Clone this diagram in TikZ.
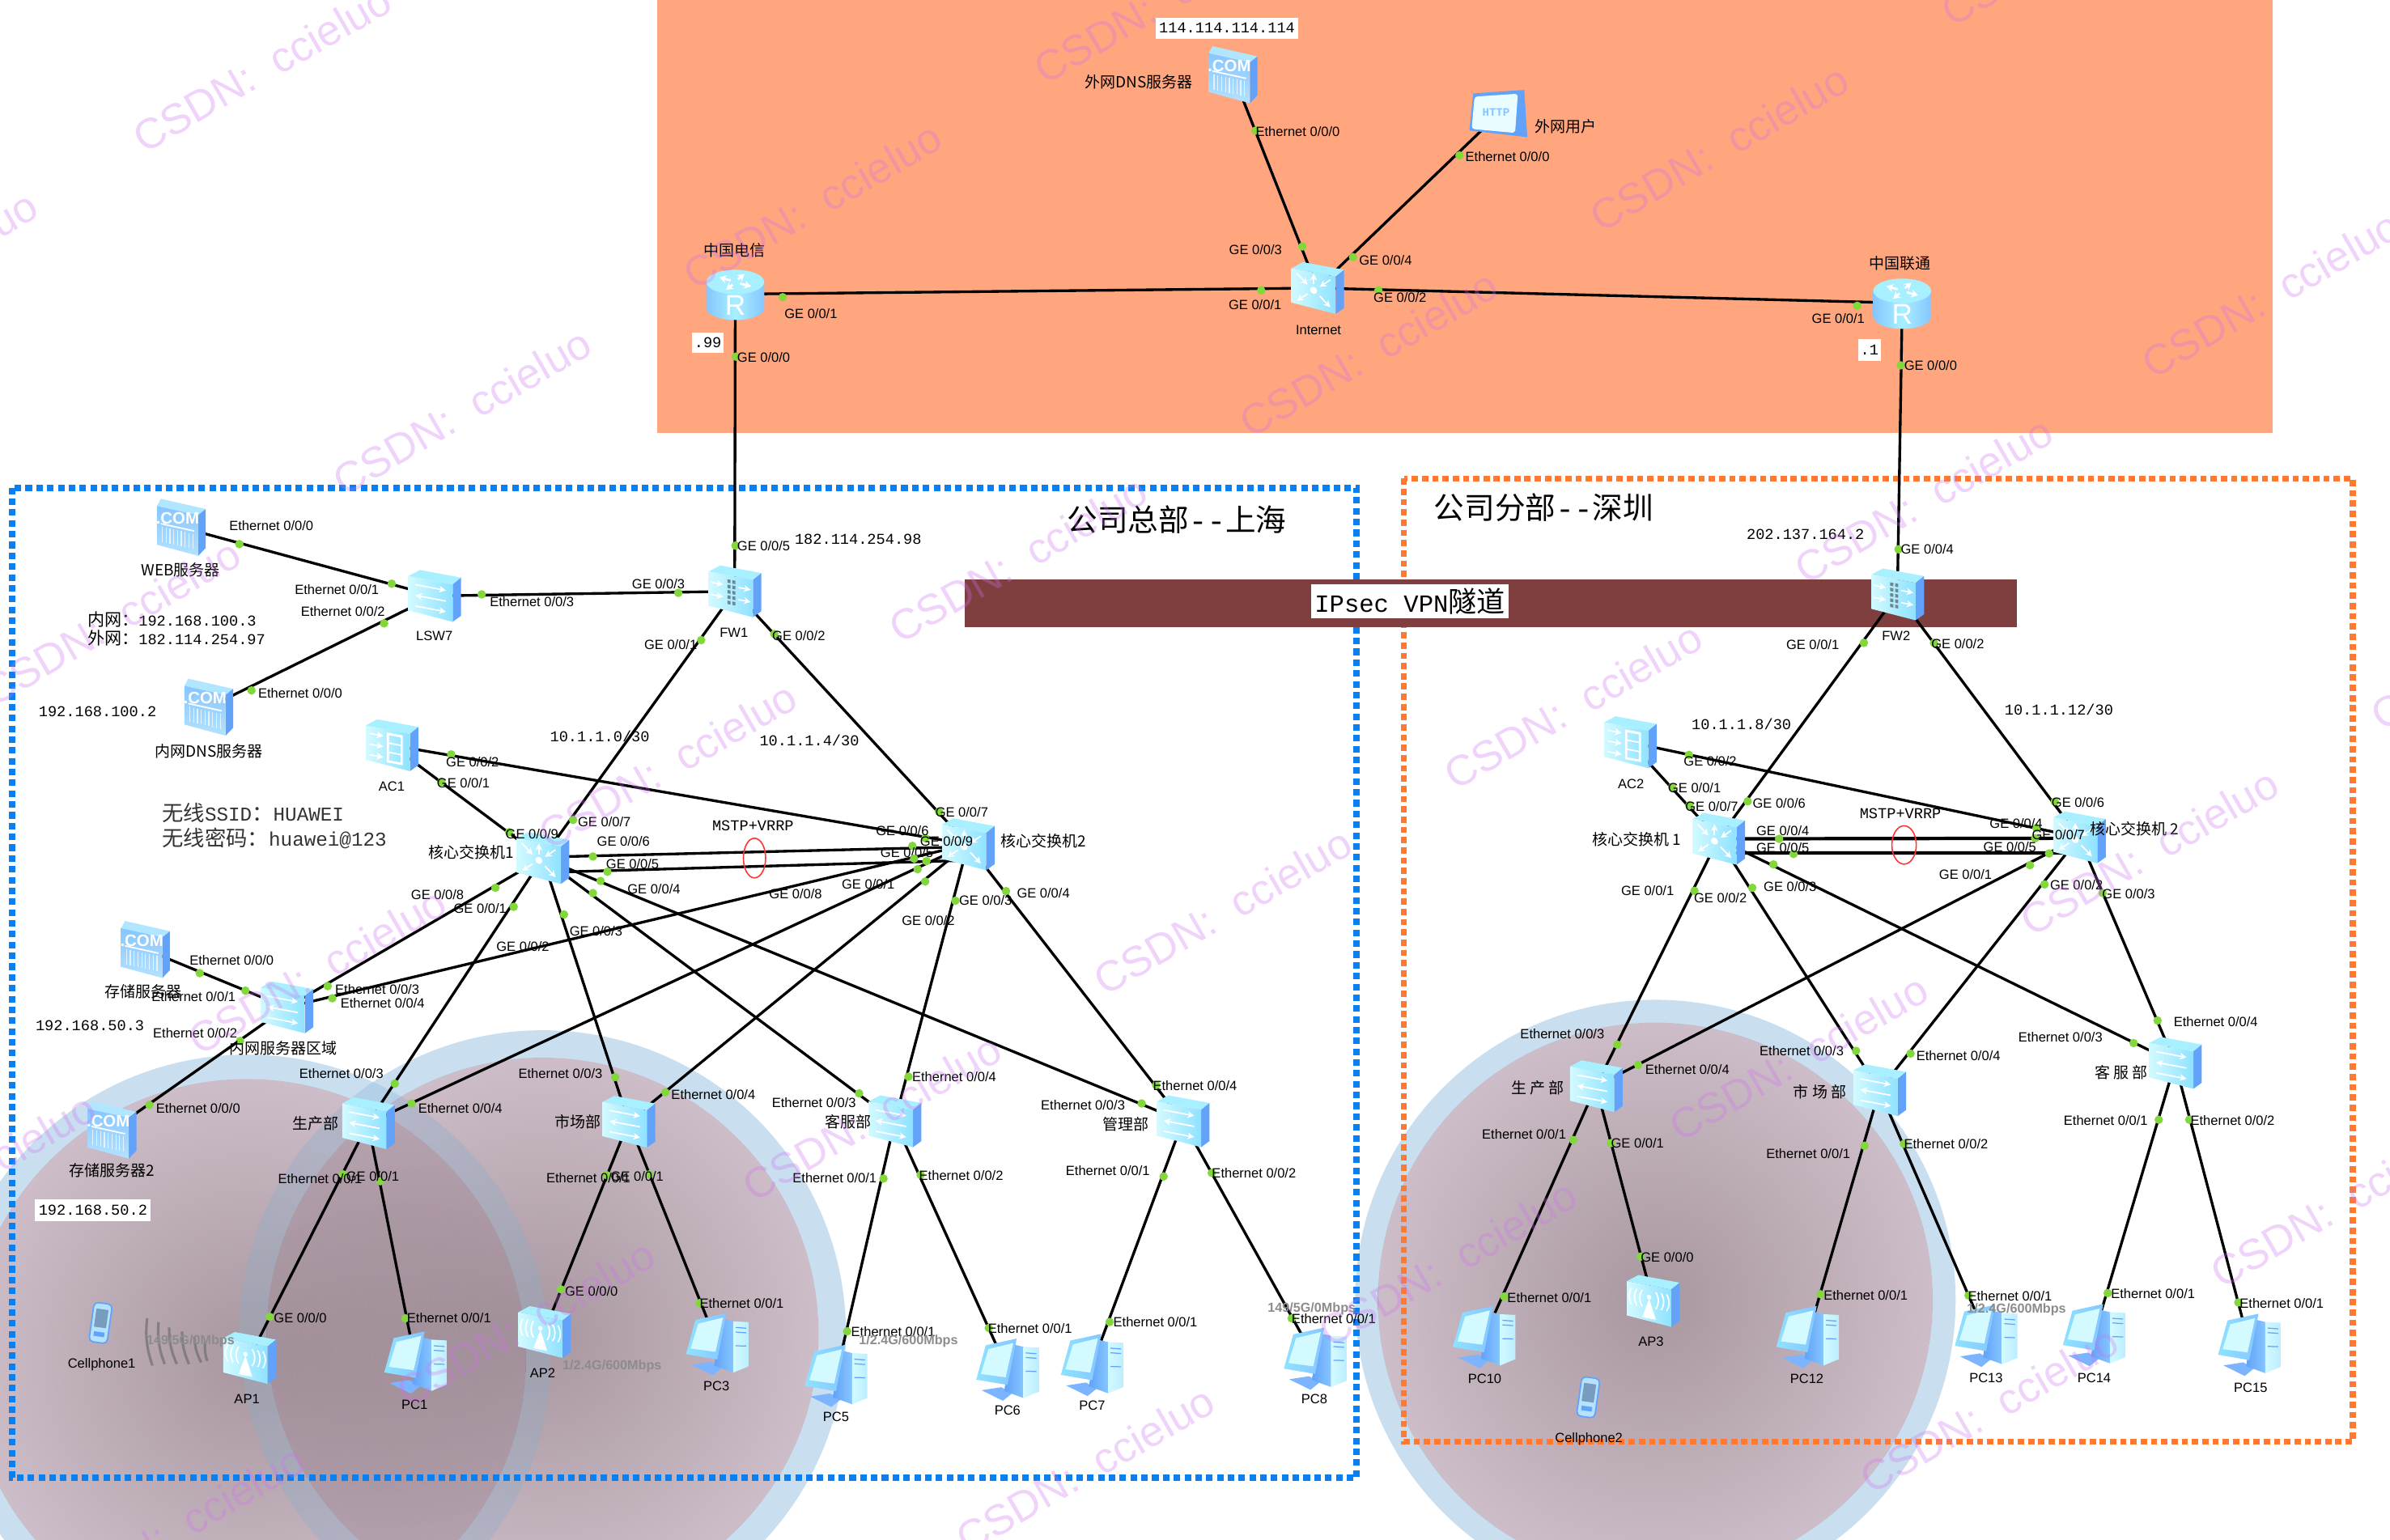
\documentclass[tikz,border=0pt]{standalone}
\usepackage{fontspec}
\setmainfont{Liberation Sans}
\newfontfamily\cj{Noto Sans CJK SC}
\newfontfamily\mn{Liberation Mono}
\usetikzlibrary{arrows.meta,calc}
\definecolor{orbg}{HTML}{FFA67E}
\definecolor{bluedot}{HTML}{0A80F0}
\definecolor{oradot}{HTML}{FF7A30}
\definecolor{vpn}{HTML}{7F3F3F}
\definecolor{portg}{HTML}{82D83A}
\definecolor{band}{HTML}{C9DFF0}
\definecolor{covA}{HTML}{A8979F}
\definecolor{covB}{HTML}{CDBDC8}
\definecolor{covC}{HTML}{DDCDD9}
\definecolor{wm}{HTML}{D070F0}
\definecolor{fL}{HTML}{D2FAFF}
\definecolor{fR}{HTML}{8FE2FF}
\definecolor{tp}{HTML}{A8F0FF}
\definecolor{sd}{HTML}{62A2F8}
\definecolor{sL}{HTML}{86C6FF}
\definecolor{sR}{HTML}{B4E2FF}
\definecolor{pcd}{HTML}{7DB4FF}
\definecolor{gr}{HTML}{8C8C8C}
\pgfdeclareradialshading{covshade}{\pgfpoint{0bp}{0bp}}{color(0bp)=(covA); color(25bp)=(covB); color(50bp)=(covC)}
\newcounter{pn}
\newcommand{\dt}[2]{\stepcounter{pn}\node[portdot] (d\thepn) at (#1,#2) {};}
\newcommand{\lb}[3]{\stepcounter{pn}\node[portlab] (t\thepn) at (#1,#2) {#3};}
\newcommand{\pl}[5]{\dt{#1}{#2}\lb{#3}{#4}{#5}}
\newcommand{\clb}[3]{\stepcounter{pn}\node[cjlab] (t\thepn) at (#1,#2) {#3};}
\newcommand{\mlb}[3]{\stepcounter{pn}\node[mnlab] (t\thepn) at (#1,#2) {#3};}
\newcommand{\glb}[3]{\stepcounter{pn}\node[graylab] (t\thepn) at (#1,#2) {#3};}
\newcommand{\boxbody}{%
  \fill[tp] (-17,-13) -- (-9.5,-17) -- (17.5,-12) -- (12,-7.5) -- cycle;
  \fill[sd] (12,-7.5) -- (17.5,-12) -- (17.5,13) -- (12,17) -- cycle;
  \shade[left color=fL,right color=fR] (-17,-13) -- (12,-7.5) -- (12,17) -- (-17,9.5) -- cycle;}
\tikzset{
  portdot/.style={circle,fill=portg,inner sep=0,minimum size=0.105cm},
  portlab/.style={inner sep=0,font=\fontsize{4.7}{5}\selectfont,text=black},
  cjlab/.style={inner sep=0,font=\cj\fontsize{5.4}{6}\selectfont,text=black},
  mnlab/.style={inner sep=0,font=\mn\fontsize{5.3}{6}\selectfont,text=black},
  graylab/.style={inner sep=0,font=\bfseries\fontsize{4.6}{5}\selectfont,text=gr},
  whitebox/.style={fill=white,inner sep=0},
  dev/.style={inner sep=0,minimum size=0},
  link/.style={draw=black,line width=0.95pt},
  wmark/.style={font=\fontsize{15}{16}\selectfont,text=wm,opacity=0.3,rotate=30,inner sep=0},
  wave/.style={draw=black!55,line width=0.9pt,opacity=.75},
  wh/.style={draw=white,line width=0.5pt},
  ar/.style={wh,-{Stealth[length=2.4pt,width=2.4pt]}},
  sw/.pic={\boxbody
    \begin{scope}[shift={(-2.5,1.5)},yslant=-0.19]
      \draw[ar] (-10,-7) -- (10,-7); \draw[ar] (10,0) -- (-10,0); \draw[ar] (-10,7) -- (10,7);
    \end{scope}},
  lthree/.pic={\boxbody
    \begin{scope}[shift={(-2.5,1.5)},yslant=-0.19]
      \fill[white] (0,0) circle (2.3);
      \draw[ar] (-11,-9) -- (-4,-3); \draw[ar] (11,-9) -- (4,-3);
      \draw[ar] (-4,3) -- (-11,9); \draw[ar] (4,3) -- (11,9); \draw[ar] (0,-4) -- (0,-11);
    \end{scope}},
  fwall/.pic={\boxbody
    \begin{scope}[shift={(-2.5,1.5)},yslant=-0.19]
      \foreach \gx in {-2.2,1}{\foreach \gy in {-9,-5.5,-2,1.5,5}{\fill[black!45!cyan!50!gray] (\gx,\gy) rectangle +(2,2.2);}}
      \draw[ar] (-13,-5) -- (-5,-5); \draw[ar] (-13,3) -- (-5,3); \draw[ar] (5,-5) -- (13,-5); \draw[ar] (5,3) -- (13,3);
    \end{scope}},
  acbox/.pic={\boxbody
    \begin{scope}[shift={(-2.5,1.5)},yslant=-0.19]
      \draw[wh,line width=.8pt] (0,-9) rectangle (9,9); \draw[wh] (0,-3) -- (9,-3); \draw[wh] (0,3) -- (9,3);
      \draw[ar] (-12,-7) -- (-3,-7); \draw[ar] (-12,0) -- (-3,0); \draw[ar] (-12,7) -- (-3,7);
    \end{scope}},
  apbox/.pic={\boxbody
    \begin{scope}[shift={(-2.5,1.5)},yslant=-0.19]
      \fill[white] (0,-3) -- (-4.5,10) -- (4.5,10) -- cycle;
      \fill[white] (0,-4) circle (1.5);
      \foreach \r in {4.5,8,11.5}{\draw[wh] (-\r,-8) to[bend right=30] (-\r,3); \draw[wh] (\r,-8) to[bend left=30] (\r,3);}
    \end{scope}},
  server/.pic={
    \fill[sR!70!tp] (-16,-14) -- (-13.5,-18.7) -- (16,-12) -- (11,-8) -- cycle;
    \fill[sd] (11,-8) -- (16,-12) -- (16,13.5) -- (11,18.7) -- cycle;
    \shade[top color=sL,bottom color=sR] (-16,-14) -- (11,-8) -- (11,18.7) -- (-16,11.4) -- cycle;
    \begin{scope}[shift={(-2.5,2)},yslant=-0.22]
      \node[dev,text=white,font=\bfseries\fontsize{5.8}{6}\selectfont] (c) at (0,-8) {.COM};
      \draw[wh] (-11,-2) -- (11,-2);
      \foreach \hx in {-10,-7.5,...,10}{\draw[white,opacity=.7,line width=.35pt] (\hx,0) -- (\hx,10);}
    \end{scope}},
  router/.pic={
    \shade[left color=sL,right color=sL,middle color=tp] (-19,-8) -- (-19,9) arc[start angle=180,end angle=0,x radius=19,y radius=8] -- (19,-8) -- cycle;
    \fill[tp] (0,-8) ellipse [x radius=19,y radius=8];
    \foreach \ra in {30,120,210,300}{\draw[white,line width=.8pt,-{Stealth[length=2.4pt,width=2.8pt]}] ($(0,-8)+(\ra:3.5 and 2)$) -- ($(0,-8)+(\ra:12 and 6)$);}
    \node[dev,text=white,font=\fontsize{10}{10}\selectfont] (rr) at (0,7.5) {R};},
  pcset/.pic={
    \fill[pcd] (-17,13.5) -- (-4,11.5) -- (3,15.5) -- (-3,20.4) -- cycle;
    \shade[left color=sd,right color=sL] (2,-17) -- (10.5,-15) -- (10.5,18.6) -- (-2,14) -- cycle;
    \shade[left color=fL,right color=fR!60!white] (10.5,-15) -- (20.5,-14.5) -- (20.5,14.5) -- (10.5,18.6) -- cycle;
    \draw[sd,line width=.35pt] (12,-11) -- (19,-10.5) (12,-8) -- (19,-7.5) (12,1) -- (19,1.2);
    \shade[left color=fR,right color=sL] (-14.3,-16) -- (6,-20.4) -- (0,10) -- (-20.5,6.5) -- cycle;
    \fill[fL] (-12.5,-13.5) -- (3.8,-17.5) -- (-1.2,5) -- (-17.5,2.8) -- cycle;},
  tablet/.pic={
    \fill[sd] (-16.5,-13.7) -- (17,-16) -- (19,15) -- (-19,10.6) -- cycle;
    \fill[fL!50!white,rounded corners=1pt] (-15.6,-11.6) -- (12.8,-13.5) -- (11,12.2) -- (-17.5,9.6) -- cycle;
    \node[dev,text=sL,font=\mn\bfseries\fontsize{4}{4}\selectfont] (http) at (-1.5,-1.5) {HTTP};},
  phone/.pic={
    \begin{scope}[rotate=-8]
      \fill[sR,draw=sd,line width=.5pt,rounded corners=1.5pt] (-6,-13) rectangle (6,13);
      \fill[black!15!sL!70!gray] (-4,-9) rectangle (4,3);
      \fill[sd] (-3.5,6) rectangle (3.5,9);
    \end{scope}},
}
\begin{document}
\begin{tikzpicture}[x=0.018833cm,y=-0.018833cm]
\clip (0,0) rectangle (1568,1010.46);
\fill[white] (0,0) rectangle (1568,1010.46);
% top band
\fill[orbg] (431,0) rectangle (1491,284);
% coverage discs
\begin{scope}[blend mode=multiply]
  \foreach \cx/\cy/\ro/\ri in {162/891/199/183,356/875/199/181,1086/853/197/182}{
    \fill[band,even odd rule] (\cx,\cy) circle (\ro) (\cx,\cy) circle (\ri);
    \shade[shading=covshade] (\cx,\cy) circle (\ri);
  }
\end{scope}
\begin{scope}
  \clip (162,891) circle (199);
  \fill[white,opacity=.22] (356,875) circle (199);
\end{scope}
% regions
\draw[draw=bluedot,line width=2.2pt,dash pattern=on 2.3pt off 1.5pt] (8,320) rectangle (890,969.5);
\draw[draw=oradot,line width=2.1pt,dash pattern=on 2.2pt off 1.4pt] (921,314) rectangle (1543.5,946);
\fill[vpn] (633,380) rectangle (1323,411.5);
\node[whitebox,minimum width=130*0.018833cm,minimum height=22*0.018833cm,font=\mn\fontsize{8.7}{9}\selectfont] (vpnt) at (925,394.5) {IPsec VPN{\cj\fontsize{10}{10}\selectfont 隧道}};
% devices (anchors)
\node[dev] (CT) at (482.4,193) {};
\node[dev] (CU) at (1248,198.8) {};
\node[dev] (INT) at (864.3,189) {};
\node[dev] (DNSX) at (809,49) {};
\node[dev] (USER) at (983,75) {};
\node[dev] (FWA) at (482,388) {};
\node[dev] (FWB) at (1244.8,390) {};
\node[dev] (LSW) at (285,391) {};
\node[dev] (WEB) at (119,346) {};
\node[dev] (DNSI) at (137,464) {};
\node[dev] (ACA) at (257,489) {};
\node[dev] (ACB) at (1069.4,487) {};
\node[dev] (CSA) at (356,563) {};
\node[dev] (CSB) at (635,554) {};
\node[dev] (CSC) at (1127.3,550.4) {};
\node[dev] (CSD) at (1364,549.4) {};
\node[dev] (STO) at (188,661) {};
\node[dev] (SRVA) at (95.5,623) {};
\node[dev] (SRVB) at (73.5,741.5) {};
\node[dev] (DA) at (241.5,737) {};
\node[dev] (DB) at (412.4,736) {};
\node[dev] (DC) at (587,735.7) {};
\node[dev] (DD) at (776,735.7) {};
\node[dev] (EA) at (1047.1,712.7) {};
\node[dev] (EB) at (1233,715.3) {};
\node[dev] (EC) at (1427,697.4) {};
\node[dev] (APa) at (163.5,891) {};
\node[dev] (APb) at (357,874) {};
\node[dev] (APc) at (1084.4,853.6) {};
\node[dev] (PCa) at (272.6,894) {};
\node[dev] (PCc) at (470.6,882) {};
\node[dev] (PCe) at (548.5,902.8) {};
\node[dev] (PCf) at (661,898.7) {};
\node[dev] (PCg) at (716.5,895.6) {};
\node[dev] (PCh) at (862.8,891.5) {};
\node[dev] (PCj) at (973.7,877.3) {};
\node[dev] (PCl) at (1185.9,877.3) {};
\node[dev] (PCm) at (1303,876.5) {};
\node[dev] (PCn) at (1373.9,876) {};
\node[dev] (PCo) at (1475.7,882.4) {};
\node[dev] (PHa) at (66,868) {};
\node[dev] (PHb) at (1042,916.8) {};
% connectors
\foreach \a/\b in {CT/INT,INT/CU,DNSX/INT,USER/INT,CT/FWA,CU/FWB,FWA/LSW,LSW/WEB,LSW/DNSI,FWA/CSA,FWA/CSB,FWB/CSC,FWB/CSD,ACA/CSA,ACA/CSB,ACB/CSC,ACB/CSD,CSA/STO,CSB/STO,STO/SRVA,STO/SRVB,CSA/DA,CSA/DB,CSA/DC,CSA/DD,CSB/DA,CSB/DB,CSB/DC,CSB/DD,DA/APa,DA/PCa,DB/APb,DB/PCc,DC/PCe,DC/PCf,DD/PCg,DD/PCh,CSC/EA,CSC/EB,CSC/EC,CSD/EA,CSD/EB,CSD/EC,EA/PCj,EA/APc,EB/PCl,EB/PCm,EC/PCn,EC/PCo}
  \draw[link] (\a) -- (\b);
\draw[link] ([shift={(0,-0.6)}]CSA.center) -- ([shift={(0,1.6)}]CSB.center);
\draw[link] ([shift={(0,9.5)}]CSA.center) -- ([shift={(0,10.5)}]CSB.center);
\draw[link,line width=1.2pt] ([shift={(0,0)}]CSC.center) -- ([shift={(0,0.6)}]CSD.center);
\draw[link,line width=1.2pt] ([shift={(0,9.3)}]CSC.center) -- ([shift={(0,10.2)}]CSD.center);
% MSTP rings
\draw[red!80,line width=.45pt] (495,563) ellipse [x radius=7.3,y radius=13];
\draw[red!80,line width=.45pt] (1249.2,554.4) ellipse [x radius=8,y radius=12.6];
% wireless arcs
\foreach \xa/\ya/\xb/\yb in {96.5/865/100/896,104/867.5/108/895,111/871/116/895,119.5/873.6/124/895,127.5/877/132/894,134.6/880.5/136/893}
  \draw[wave] (\xa,\ya) to[bend right=12] (\xb,\yb);
% icons
\foreach \d in {CT,CU} \pic at (\d) {router};
\foreach \d in {INT,CSA,CSB,CSC,CSD} \pic at (\d) {lthree};
\foreach \d in {FWA,FWB} \pic at (\d) {fwall};
\foreach \d in {LSW,STO,DA,DB,DC,DD,EA,EB,EC} \pic at (\d) {sw};
\foreach \d in {ACA,ACB} \pic at (\d) {acbox};
\foreach \d in {APa,APb,APc} \pic at (\d) {apbox};
\foreach \d in {DNSX,WEB,DNSI,SRVA,SRVB} \pic at (\d) {server};
\foreach \d in {PCa,PCc,PCe,PCf,PCg,PCh,PCj,PCl,PCm,PCn,PCo} \pic at (\d) {pcset};
\foreach \d in {PHa,PHb} \pic at (\d) {phone};
\pic at (USER) {tablet};
% top-band ports and labels
\pl{823.7}{85.7}{851.4}{86.3}{Ethernet 0/0/0}
\pl{957.5}{102}{989}{103}{Ethernet 0/0/0}
\pl{854.5}{161.7}{823.7}{164}{GE 0/0/3}
\pl{887.7}{168.7}{909}{170.6}{GE 0/0/4}
\pl{827.4}{190.5}{823.4}{200}{GE 0/0/1}
\pl{904.3}{190.5}{918.5}{195.3}{GE 0/0/2}
\pl{513.5}{195}{532}{206}{GE 0/0/1}
\pl{482.7}{234}{501}{234.3}{GE 0/0/0}
\pl{1218.5}{200.6}{1206}{209}{GE 0/0/1}
\pl{1247}{239.7}{1266.6}{240}{GE 0/0/0}
\lb{865}{216.5}{Internet}
\clb{481.7}{164}{中国电信}
\clb{1246.6}{173}{中国联通}
\clb{747}{53.7}{外网DNS服务器}
\clb{1027.4}{82.9}{外网用户}
\node[whitebox,mnlab,fill=white,minimum width=93*0.018833cm,minimum height=13.7*0.018833cm] (ipa) at (805,18.4) {114.114.114.114};
\node[whitebox,mnlab,fill=white,minimum width=21*0.018833cm,minimum height=13.5*0.018833cm] (ipb) at (464.4,225) {.99};
\node[whitebox,mnlab,fill=white,minimum width=15*0.018833cm,minimum height=14*0.018833cm] (ipc) at (1226.5,229.6) {.1};
% HQ
\node[inner sep=0,text=black,font=\cj\fontsize{10.7}{11}\selectfont] (hq) at (772,341) {公司总部{\mn --}上海};
\node[inner sep=0,text=black,font=\cj\fontsize{10.7}{11}\selectfont] (br) at (1012.8,333) {公司分部{\mn --}深圳};
\pl{157}{357}{178}{345}{Ethernet 0/0/0}
\pl{257}{383}{221}{387}{Ethernet 0/0/1}
\pl{252}{409}{225}{401}{Ethernet 0/0/2}
\pl{316}{390}{349}{395}{Ethernet 0/0/3}
\pl{445}{389}{432}{383}{GE 0/0/3}
\pl{482.5}{358}{501}{358}{GE 0/0/5}
\pl{460}{420}{440}{423}{GE 0/0/1}
\pl{508}{416}{524}{417}{GE 0/0/2}
\lb{481.5}{415}{FW1}
\lb{285}{417}{LSW7}
\clb{118.5}{374}{WEB服务器}
\mlb{563}{354}{182.114.254.98}
\node[inner sep=0,anchor=west,font=\mn\fontsize{5.3}{6.6}\selectfont,align=left,text=black] (ipd) at (57,412.5) {{\cj\fontsize{6}{6}\selectfont 内网：}192.168.100.3\\{\cj\fontsize{6}{6}\selectfont 外网：}182.114.254.97};
\pl{165}{453}{197}{455}{Ethernet 0/0/0}
\mlb{64}{467}{192.168.100.2}
\clb{137}{493}{内网DNS服务器}
\lb{257}{516}{AC1}
\pl{296}{495}{310}{500}{GE 0/0/2}
\pl{289.5}{513}{304}{514}{GE 0/0/1}
\node[inner sep=0,anchor=west,font=\mn\fontsize{6.9}{8.8}\selectfont,align=left,text=black!80] (ssid) at (106,542) {{\cj\fontsize{7.5}{7.5}\selectfont 无线}SSID{\cj\fontsize{7.5}{7.5}\selectfont ：}HUAWEI\\{\cj\fontsize{7.5}{7.5}\selectfont 无线密码：}huawei@123};
\mlb{393.5}{483}{10.1.1.0/30}
\mlb{531}{486}{10.1.1.4/30}
\pl{376}{538}{396.5}{539}{GE 0/0/7}
\pl{334}{546}{349}{547}{GE 0/0/9}
\pl{389}{562}{409}{552}{GE 0/0/6}
\pl{398.5}{572}{415}{567}{GE 0/0/5}
\pl{394}{578}{429}{583.5}{GE 0/0/4}
\dt{389}{586}
\pl{325}{582.5}{287}{587}{GE 0/0/8}
\pl{337}{595}{315}{596}{GE 0/0/1}
\pl{370}{600}{391}{611}{GE 0/0/3}
\lb{343}{621}{GE 0/0/2}
\clb{309}{559}{核心交换机1}
\mlb{494}{542}{MSTP+VRRP}
\clb{684.5}{552}{核心交换机2}
\pl{616}{532.5}{631}{533}{GE 0/0/7}
\pl{607}{550}{592}{545}{GE 0/0/6}
\lb{621}{552}{GE 0/0/9}
\dt{598.6}{555}
\lb{595}{559.3}{GE 0/0/5}
\dt{599.7}{563.4}
\dt{607.8}{565}
\dt{602}{570.3}
\dt{607}{578.4}
\lb{522}{586.5}{GE 0/0/8}
\lb{569.6}{580}{GE 0/0/1}
\pl{626.8}{591}{646.6}{591}{GE 0/0/3}
\pl{660}{584.7}{684.5}{586}{GE 0/0/4}
\lb{609}{604}{GE 0/0/2}
% storage
\clb{94}{650.6}{存储服务器}
\pl{131}{638.5}{152}{630}{Ethernet 0/0/0}
\pl{161}{650}{127}{654}{Ethernet 0/0/1}
\pl{215}{647}{247.5}{649}{Ethernet 0/0/3}
\pl{218}{655}{251}{658}{Ethernet 0/0/4}
\mlb{59}{673}{192.168.50.3}
\pl{157.5}{683}{128}{678}{Ethernet 0/0/2}
\clb{186}{688}{内网服务器区域}
\pl{98}{725}{130}{727}{Ethernet 0/0/0}
\clb{73.5}{768}{存储服务器2}
\node[whitebox,mnlab,fill=white,minimum width=76*0.018833cm,minimum height=14*0.018833cm] (ipe) at (61,794) {192.168.50.2};
% departments HQ
\clb{207}{737}{生产部}
\pl{259}{711}{224}{704.6}{Ethernet 0/0/3}
\pl{270}{724}{302}{727}{Ethernet 0/0/4}
\pl{225}{770.5}{210}{773.6}{Ethernet 0/0/1}
\pl{249.5}{775}{244.5}{771.7}{GE 0/0/1}
\clb{379}{736}{市场部}
\pl{403.6}{706.7}{367.7}{704.6}{Ethernet 0/0/3}
\pl{436.5}{716.7}{468}{718}{Ethernet 0/0/4}
\pl{398}{771}{386}{773}{Ethernet 0/0/1}
\pl{426}{770.5}{418}{772}{GE 0/0/1}
\clb{556.6}{736}{客服部}
\pl{596}{706.4}{626}{706.6}{Ethernet 0/0/4}
\pl{563.6}{717.4}{534}{723.5}{Ethernet 0/0/3}
\pl{579.6}{773.3}{547.6}{773}{Ethernet 0/0/1}
\pl{604}{770.8}{630.6}{771.5}{Ethernet 0/0/2}
\clb{738.7}{737.8}{管理部}
\pl{758.5}{712}{784}{712.3}{Ethernet 0/0/4}
\pl{749}{724}{710.5}{725}{Ethernet 0/0/3}
\pl{763.4}{771.9}{726.8}{768.2}{Ethernet 0/0/1}
\pl{795}{769.6}{822.7}{769.8}{Ethernet 0/0/2}
% HQ endpoints
\lb{66.7}{895.3}{Cellphone1}
\lb{162}{918}{AP1}
\pl{177}{864}{197}{864.6}{GE 0/0/0}
\glb{125}{880}{149/5G/0Mbps}
\lb{272}{921.5}{PC1}
\pl{266}{865}{294.6}{865}{Ethernet 0/0/1}
\lb{356}{901}{AP2}
\pl{368}{846}{388}{847}{GE 0/0/0}
\glb{401.6}{896.7}{1/2.4G/600Mbps}
\lb{470}{909.6}{PC3}
\pl{459}{855}{486.6}{855}{Ethernet 0/0/1}
\lb{548.5}{929.7}{PC5}
\pl{555.8}{873.6}{586}{874}{Ethernet 0/0/1}
\glb{596}{880}{1/2.4G/600Mbps}
\lb{661}{925.6}{PC6}
\pl{648.7}{871.3}{675.8}{871.7}{Ethernet 0/0/1}
\lb{716.5}{922.4}{PC7}
\pl{728}{867.4}{758}{867.6}{Ethernet 0/0/1}
\lb{862.3}{917.7}{PC8}
\glb{860.6}{859}{149/5G/0Mbps}
\pl{847.4}{865}{875}{865.4}{Ethernet 0/0/1}
% branch
\mlb{1184.5}{350.8}{202.137.164.2}
\pl{1245.5}{360.4}{1264.4}{360.4}{GE 0/0/4}
\lb{1244}{417.3}{FW2}
\pl{1222.8}{421.8}{1189.2}{423.2}{GE 0/0/1}
\pl{1268.8}{421.8}{1284.4}{422.4}{GE 0/0/2}
\mlb{1350.8}{465.4}{10.1.1.12/30}
\mlb{1142.5}{475.2}{10.1.1.8/30}
\lb{1070}{514.4}{AC2}
\pl{1108}{495.3}{1122}{499.6}{GE 0/0/2}
\pl{1097}{516.5}{1111.7}{517}{GE 0/0/1}
\pl{1108.3}{528.4}{1123}{529}{GE 0/0/7}
\pl{1146.6}{525.8}{1167.2}{526.8}{GE 0/0/6}
\clb{1073.8}{550.8}{核心交换机 1}
\pl{1167.2}{550.4}{1169.6}{545}{GE 0/0/4}
\pl{1176.7}{560.3}{1169.6}{556}{GE 0/0/5}
\dt{1163.5}{567.2}
\pl{1149.6}{582.5}{1174.4}{581.9}{GE 0/0/3}
\pl{1111.7}{584.5}{1080.9}{584.3}{GE 0/0/1}
\lb{1128.7}{589}{GE 0/0/2}
\mlb{1246.8}{534}{MSTP+VRRP}
\clb{1400.5}{543.7}{核心交换机 2}
\pl{1348}{526}{1363.3}{526.6}{GE 0/0/6}
\pl{1336}{543.3}{1322.7}{540.2}{GE 0/0/4}
\pl{1335.2}{550}{1350.4}{547.7}{GE 0/0/7}
\pl{1344.3}{560}{1318.6}{555.5}{GE 0/0/5}
\pl{1331.8}{567.7}{1289.5}{573.8}{GE 0/0/1}
\pl{1341.3}{580.3}{1362.3}{580.7}{GE 0/0/2}
\pl{1379.5}{586}{1396.5}{586.6}{GE 0/0/3}
\clb{1008.9}{714}{生 产 部}
\pl{1061.1}{685.4}{1025}{678.3}{Ethernet 0/0/3}
\pl{1074.7}{698.7}{1107}{701.5}{Ethernet 0/0/4}
\pl{1032.2}{748}{999.9}{744.4}{Ethernet 0/0/1}
\pl{1056.9}{750}{1074.3}{750}{GE 0/0/1}
\lb{974.1}{904.8}{PC10}
\pl{986.8}{850.7}{1016.5}{851.3}{Ethernet 0/0/1}
\lb{1083.2}{880}{AP3}
\pl{1076.4}{824.5}{1093.8}{825}{GE 0/0/0}
\lb{1042.4}{944.1}{Cellphone2}
\clb{1194}{716.3}{市 场 部}
\pl{1217.7}{689.5}{1182}{689.5}{Ethernet 0/0/3}
\pl{1253.4}{691.3}{1284.8}{692.6}{Ethernet 0/0/4}
\pl{1223.2}{751.8}{1186.3}{757.1}{Ethernet 0/0/1}
\pl{1249.1}{750.5}{1276.7}{750.8}{Ethernet 0/0/2}
\lb{1185.4}{904.8}{PC12}
\pl{1194.4}{849.2}{1224}{849.7}{Ethernet 0/0/1}
\lb{1303}{904}{PC13}
\glb{1323}{859.4}{1/2.4G/600Mbps}
\pl{1291.5}{850}{1318.7}{850.5}{Ethernet 0/0/1}
\lb{1373.9}{904}{PC14}
\pl{1382.8}{848.5}{1412.5}{849}{Ethernet 0/0/1}
\lb{1476.6}{910.7}{PC15}
\pl{1468.5}{854.6}{1497}{855}{Ethernet 0/0/1}
\clb{1391.7}{703.8}{客 服 部}
\pl{1415.5}{669.6}{1453.7}{670.4}{Ethernet 0/0/4}
\pl{1399.8}{684.4}{1351.8}{680.6}{Ethernet 0/0/3}
\pl{1416.3}{734.7}{1381.5}{735}{Ethernet 0/0/1}
\pl{1436.3}{734.7}{1464.7}{735}{Ethernet 0/0/2}
% watermark
\foreach \wx/\wy in {-60/180,172/45,402/-90,73/408,303/270,533/135,763/0,-22/772,208/637,438/502,668/367,898/232,1128/97,1358/-38,115/1003,345/868,572/733,802/598,1032/463,1262/328,1490/193,712/964,950/829,1180/694,1410/559,1640/424,1305/925,1535/790}
  \node[wmark] (wm\wx-\wy) at (\wx,\wy) {CSDN:\ \ ccieluo};
\end{tikzpicture}
\end{document}
